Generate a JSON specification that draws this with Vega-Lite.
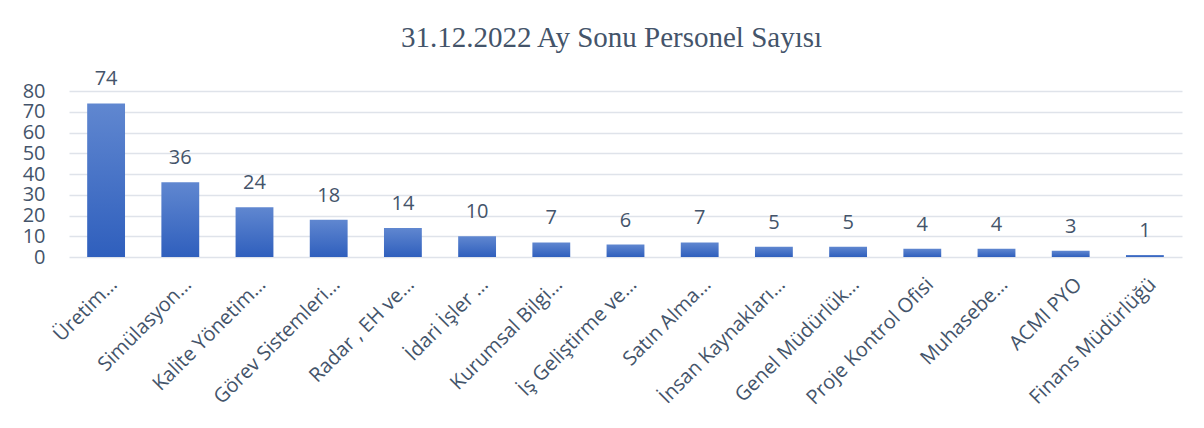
{
  "$schema": "https://vega.github.io/schema/vega-lite/v6.json",
  "autosize": "none",
  "width": 1113,
  "height": 166,
  "padding": {"left": 69, "top": 91, "right": 22, "bottom": 171},
  "background": "white",
  "config": {"view": {"stroke": null}},
  "title": {
    "text": "31.12.2022 Ay Sonu Personel Sayısı",
    "font": "Liberation Serif",
    "fontSize": 29,
    "fontWeight": "normal",
    "color": "#44546a",
    "anchor": "middle",
    "dx": -14,
    "offset": -7,
    "baseline": "alphabetic"
  },
  "data": {
    "values": [
      {"birim": "Üretim…", "sayi": 74},
      {"birim": "Simülasyon…", "sayi": 36},
      {"birim": "Kalite Yönetim…", "sayi": 24},
      {"birim": "Görev Sistemleri…", "sayi": 18},
      {"birim": "Radar , EH ve…", "sayi": 14},
      {"birim": "İdari İşler …", "sayi": 10},
      {"birim": "Kurumsal Bilgi…", "sayi": 7},
      {"birim": "İş Geliştirme ve…", "sayi": 6},
      {"birim": "Satın Alma…", "sayi": 7},
      {"birim": "İnsan Kaynakları…", "sayi": 5},
      {"birim": "Genel Müdürlük…", "sayi": 5},
      {"birim": "Proje Kontrol Ofisi", "sayi": 4},
      {"birim": "Muhasebe…", "sayi": 4},
      {"birim": "ACMI PYO", "sayi": 3},
      {"birim": "Finans Müdürlüğü", "sayi": 1}
    ]
  },
  "encoding": {
    "x": {
      "field": "birim",
      "type": "nominal",
      "sort": null,
      "scale": {"paddingInner": 0.49, "paddingOuter": 0.245},
      "axis": {
        "title": null,
        "labelAngle": -45,
        "labelAlign": "right",
        "labelBaseline": "middle",
        "labelFont": "Open Sans",
        "labelFontSize": 20,
        "labelColor": "#44546a",
        "labelPadding": 24,
        "labelOffset": 8,
        "labelLimit": 400,
        "ticks": false,
        "domain": false,
        "grid": false
      }
    },
    "y": {
      "field": "sayi",
      "type": "quantitative",
      "scale": {"domain": [0, 80], "nice": false},
      "axis": {
        "title": null,
        "values": [0, 10, 20, 30, 40, 50, 60, 70, 80],
        "labelFont": "Open Sans",
        "labelFontSize": 20,
        "labelColor": "#44546a",
        "labelPadding": 24,
        "ticks": false,
        "domain": false,
        "grid": true,
        "gridColor": "#dfe3ea",
        "gridWidth": 1.5
      }
    }
  },
  "layer": [
    {
      "mark": {
        "type": "bar",
        "color": {
          "gradient": "linear",
          "x1": 0, "y1": 0, "x2": 0, "y2": 1,
          "stops": [
            {"offset": 0, "color": "#6087d0"},
            {"offset": 1, "color": "#2f5fbd"}
          ]
        }
      }
    },
    {
      "mark": {
        "type": "text",
        "font": "Open Sans",
        "fontSize": 20,
        "color": "#44546a",
        "baseline": "alphabetic",
        "dy": -18
      },
      "encoding": {"text": {"field": "sayi", "type": "quantitative"}}
    }
  ]
}
